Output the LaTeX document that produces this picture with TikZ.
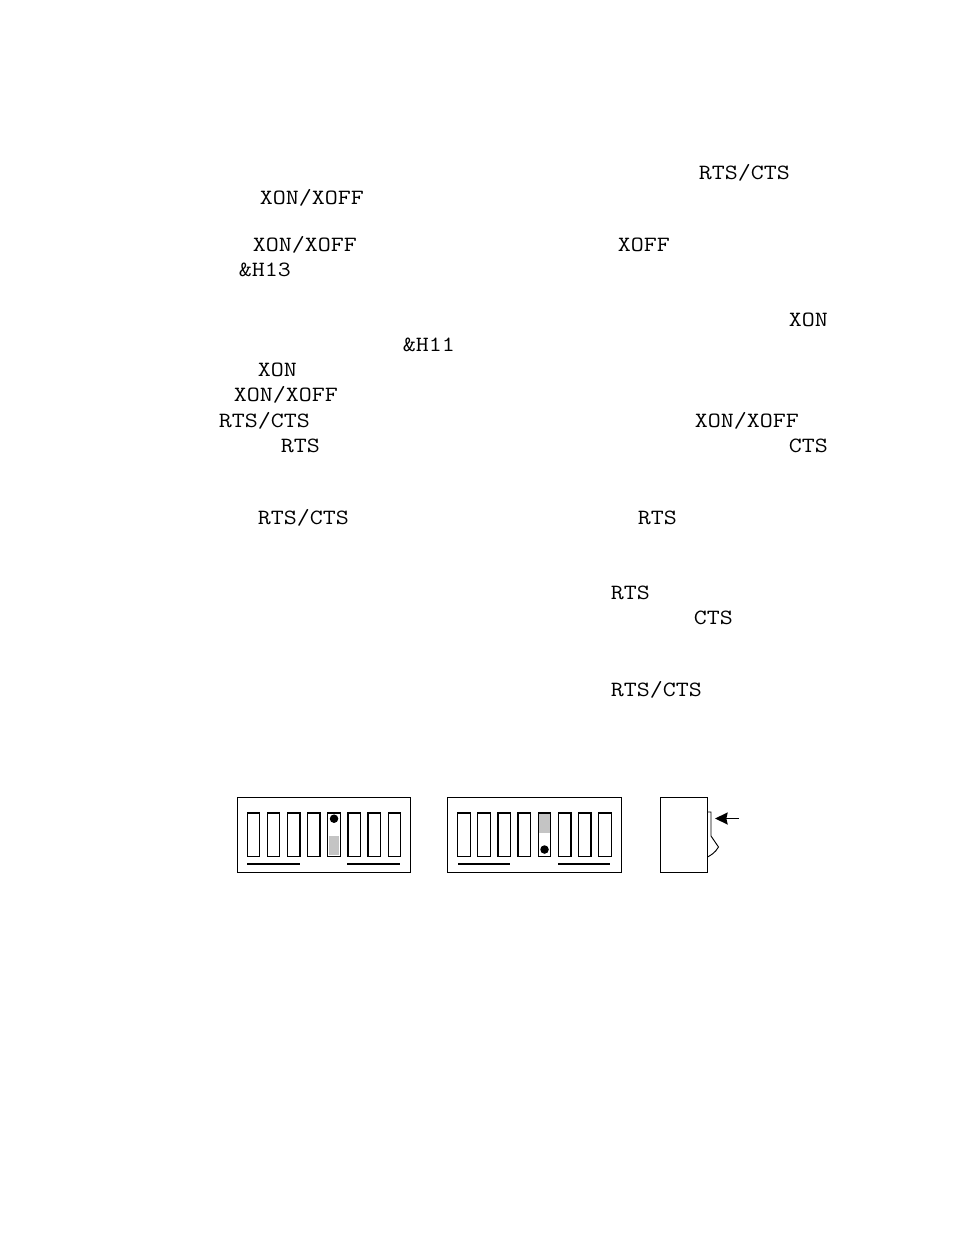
\documentclass[tikz,border=0pt]{standalone}
\usepackage{fontspec}
\setmonofont[FakeStretch=1.16]{Latin Modern Mono}
\usetikzlibrary{arrows.meta, positioning, calc}
\definecolor{slidegray}{HTML}{C4C4C4}

\begin{document}
\begin{tikzpicture}[
    x=0.75pt, y=-0.75pt,
    >=Stealth,
    word/.style={anchor=base west, inner sep=0pt, font=\ttfamily\fontsize{16.3pt}{18pt}\selectfont},
    panel/.style={draw, line width=0.8pt, minimum width=173.5pt*0.75, minimum height=74.5pt*0.75, inner sep=0pt, anchor=north west},
    slot/.style={draw, line width=1pt, minimum width=12.5pt*0.75, minimum height=43.5pt*0.75, inner sep=0pt, anchor=north west},
    shade/.style={fill=slidegray, inner sep=0pt, minimum width=10.5pt*0.75, minimum height=19pt*0.75},
    dot/.style={circle, fill=black, inner sep=0pt, minimum size=6.4pt},
    bar/.style={line width=1pt},
    flow/.style={-{Stealth[length=9.5pt, width=9pt, inset=1pt]}, line width=1.1pt}
  ]
    \useasboundingbox (0,0) rectangle (954,1235);

    % Text
    \node[word] (t1) at (698.7,179) {RTS/CTS};
    \node[word] (t2) at (259.7,204) {XON/XOFF};
    \node[word] (t3) at (252.7,251) {XON/XOFF};
    \node[word] (t4) at (617.7,251) {XOFF};
    \node[word] (t5) at (238.7,276) {\&H13};
    \node[word] (t6) at (788.7,326) {XON};
    \node[word] (t7) at (402.7,351) {\&H11};
    \node[word] (t8) at (257.7,376) {XON};
    \node[word] (t9) at (233.7,401) {XON/XOFF};
    \node[word] (t10) at (218.7,427) {RTS/CTS};
    \node[word] (t11) at (694.7,427) {XON/XOFF};
    \node[word] (t12) at (280.7,452) {RTS};
    \node[word] (t13) at (788.7,452) {CTS};
    \node[word] (t14) at (257.7,524) {RTS/CTS};
    \node[word] (t15) at (637.7,524) {RTS};
    \node[word] (t16) at (610.7,599) {RTS};
    \node[word] (t17) at (693.7,624) {CTS};
    \node[word] (t18) at (610.7,696) {RTS/CTS};

    % Switch panels
    \node[panel] (panelA) at (236.8,797) {};
    \node[panel] (panelB) at (447.3,797) {};
    \foreach \n in {0,...,7} {
      \node[slot] (a\n) at ({246.5+20.15*\n},812.2) {};
      \node[slot] (b\n) at ({457+20.15*\n},812.2) {};
    }

    % Switch positions
    \node[shade, anchor=south] (shadeA) at ($(a4.south)+(0,-1.5)$) {};
    \node[dot] (dotA) at ($(a4.north)+(0,6.5)$) {};
    \node[shade, anchor=north] (shadeB) at ($(b4.north)+(0,1.5)$) {};
    \node[dot] (dotB) at ($(b4.south)+(0,-7.5)$) {};

    % Bars under the switches
    \coordinate (barA1) at (247,864);
    \coordinate (barA2) at (300,864);
    \coordinate (barA3) at (347,864);
    \coordinate (barA4) at (400,864);
    \coordinate (barB1) at (458,864);
    \coordinate (barB2) at (510,864);
    \coordinate (barB3) at (558,864);
    \coordinate (barB4) at (610,864);
    \draw[bar] (barA1) -- (barA2);
    \draw[bar] (barA3) -- (barA4);
    \draw[bar] (barB1) -- (barB2);
    \draw[bar] (barB3) -- (barB4);

    % Side view
    \node[panel, minimum width=47.5pt*0.75] (side) at (659.7,797) {};
    \draw[line width=0.7pt] (707,812) -- (711,812) -- (711,836) -- (718.5,847) .. controls (715,853) and (711,855) .. (707.5,857);
    \coordinate (pushStart) at (739,818.5);
    \coordinate (pushEnd) at (715,818.5);
    \draw[flow] (pushStart) -- (pushEnd);
  \end{tikzpicture}
\end{document}
